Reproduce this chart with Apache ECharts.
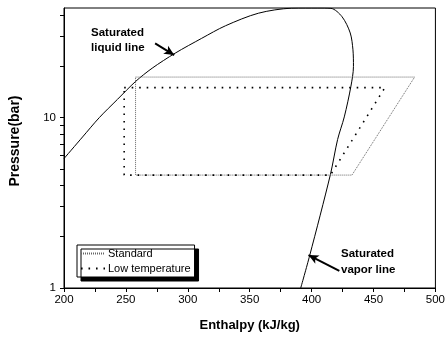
<!DOCTYPE html>
<html>
<head>
<meta charset="utf-8">
<script src="https://cdn.jsdelivr.net/npm/echarts@6/dist/echarts.min.js"></script>
<style>
  html, body { margin: 0; padding: 0; background: #fff; }
  #chart { width: 448px; height: 337px; }
</style>
</head>
<body>
<div id="chart"></div>
<script>
// saturation dome, [enthalpy kJ/kg, pressure bar]
const liquidLine = [
  [200, 5.75], [215, 7.7], [228.5, 10.0], [243.2, 12.8], [257.8, 16.3],
  [271.2, 19.5], [289.8, 23.9], [311.2, 29.2], [330.4, 34.6], [357, 41.0],
  [383.8, 43.9], [395, 44], [405, 44], [415.6, 43.8]
]
const vaporLine = [
  [424.6, 39.1], [431.2, 31.4], [433.4, 25.0], [433.8, 19.95], [431.7, 15.2],
  [426.4, 10.1], [421, 7.44], [415.2, 4.64], [398.4, 1.545], [391.2, 1]
]
const standardCycle = [[257.8, 17.3], [483.2, 17.3], [432.6, 4.6], [257.8, 4.6], [257.8, 17.3]]
const lowTempCycle = [[248.6, 15.0], [459.2, 15.0], [415.2, 4.6], [248.6, 4.6], [248.6, 15.0]]

const xTicks = [200, 225, 250, 275, 300, 325, 350, 375, 400, 425, 450, 475, 500]
const xLabels = [200, 250, 300, 350, 400, 450, 500]
const yTicks = [1, 2, 3, 4, 5, 6, 7, 8, 9, 10, 20, 30, 40]
const yLabels = [1, 10]

// annotation arrows: [tail, head]
const liquidArrow = [[273.6, 27.3], [289, 23.3]]
const vaporArrow = [[422.4, 1.26], [397.5, 1.56]]

const font = 'Liberation Sans, Arial, sans-serif'

const chart = echarts.init(document.getElementById('chart'))

chart.setOption({
  animation: false,
  backgroundColor: '#fff',
  textStyle: { fontFamily: font },
  grid: {
    left: 61, right: 12, top: 8, bottom: 48,
    show: true, borderColor: '#000', borderWidth: 1
  },
  xAxis: {
    type: 'value',
    min: 200, max: 500, interval: 25,
    name: 'Enthalpy (kJ/kg)',
    nameLocation: 'middle',
    nameGap: 31,
    nameTextStyle: { fontSize: 13, fontWeight: 'bold', color: '#000', fontFamily: font },
    axisLine: { lineStyle: { color: '#000', width: 1 } },
    axisTick: { inside: false, length: 4, lineStyle: { color: '#000' }, customValues: xTicks },
    axisLabel: { color: '#000', fontSize: 11.5, margin: 6, fontFamily: font, customValues: xLabels },
    splitLine: { show: false }
  },
  yAxis: {
    type: 'log',
    logBase: 10,
    min: 1, max: 44,
    name: 'Pressure(bar)',
    nameLocation: 'middle',
    nameGap: 42,
    nameTextStyle: { fontSize: 14, fontWeight: 'bold', color: '#000', fontFamily: font, padding: [0, 0, 0, 14] },
    axisLine: { show: true, lineStyle: { color: '#000', width: 1 } },
    axisTick: { show: true, inside: false, length: 4, lineStyle: { color: '#000' }, customValues: yTicks },
    axisLabel: { color: '#000', fontSize: 11.5, margin: 8, fontFamily: font, customValues: yLabels },
    splitLine: { show: false }
  },
  legend: {
    left: 77, top: 245,
    orient: 'vertical',
    data: ['Standard', 'Low temperature'],
    backgroundColor: '#fff',
    borderColor: '#000',
    borderWidth: 1,
    borderRadius: 0,
    shadowColor: '#000',
    shadowBlur: 0,
    shadowOffsetX: 4,
    shadowOffsetY: 4,
    padding: [3, 4, 3, 3],
    itemGap: 4,
    itemWidth: 24,
    itemHeight: 10,
    itemStyle: { opacity: 0 },
    textStyle: { color: '#000', fontSize: 11, fontFamily: font, padding: [0, 0, 0, -2] }
  },
  series: [
    {
      name: 'Saturated',
      type: 'line',
      data: liquidLine.concat(vaporLine),
      symbol: 'none',
      smooth: 0.3,
      clip: true,
      lineStyle: { color: '#000', width: 1 },
      markLine: {
        silent: true,
        symbol: ['none', 'arrow'],
        symbolSize: [7, 10],
        label: { show: false },
        lineStyle: { color: '#000', width: 2, type: 'solid' },
        data: [
          [{ coord: liquidArrow[0] }, { coord: liquidArrow[1] }],
          [{ coord: vaporArrow[0] }, { coord: vaporArrow[1] }]
        ]
      }
    },
    {
      name: 'Standard',
      type: 'line',
      data: standardCycle,
      symbol: 'none',
      clip: true,
      color: '#666',
      lineStyle: { color: '#666', width: 1, type: [1, 1] }
    },
    {
      name: 'Low temperature',
      type: 'line',
      data: lowTempCycle,
      symbol: 'none',
      clip: true,
      color: '#000',
      lineStyle: { color: '#000', width: 1.6, type: [1.6, 5.9] }
    }
  ],
  graphic: [
    {
      type: 'text', left: 91, top: 25,
      style: { text: 'Saturated\nliquid line', font: 'bold 11.5px ' + font, lineHeight: 15, fill: '#000' }
    },
    {
      type: 'text', left: 341, top: 246,
      style: { text: 'Saturated\nvapor line', font: 'bold 11.5px ' + font, lineHeight: 16, fill: '#000' }
    }
  ]
})
</script>
</body>
</html>
